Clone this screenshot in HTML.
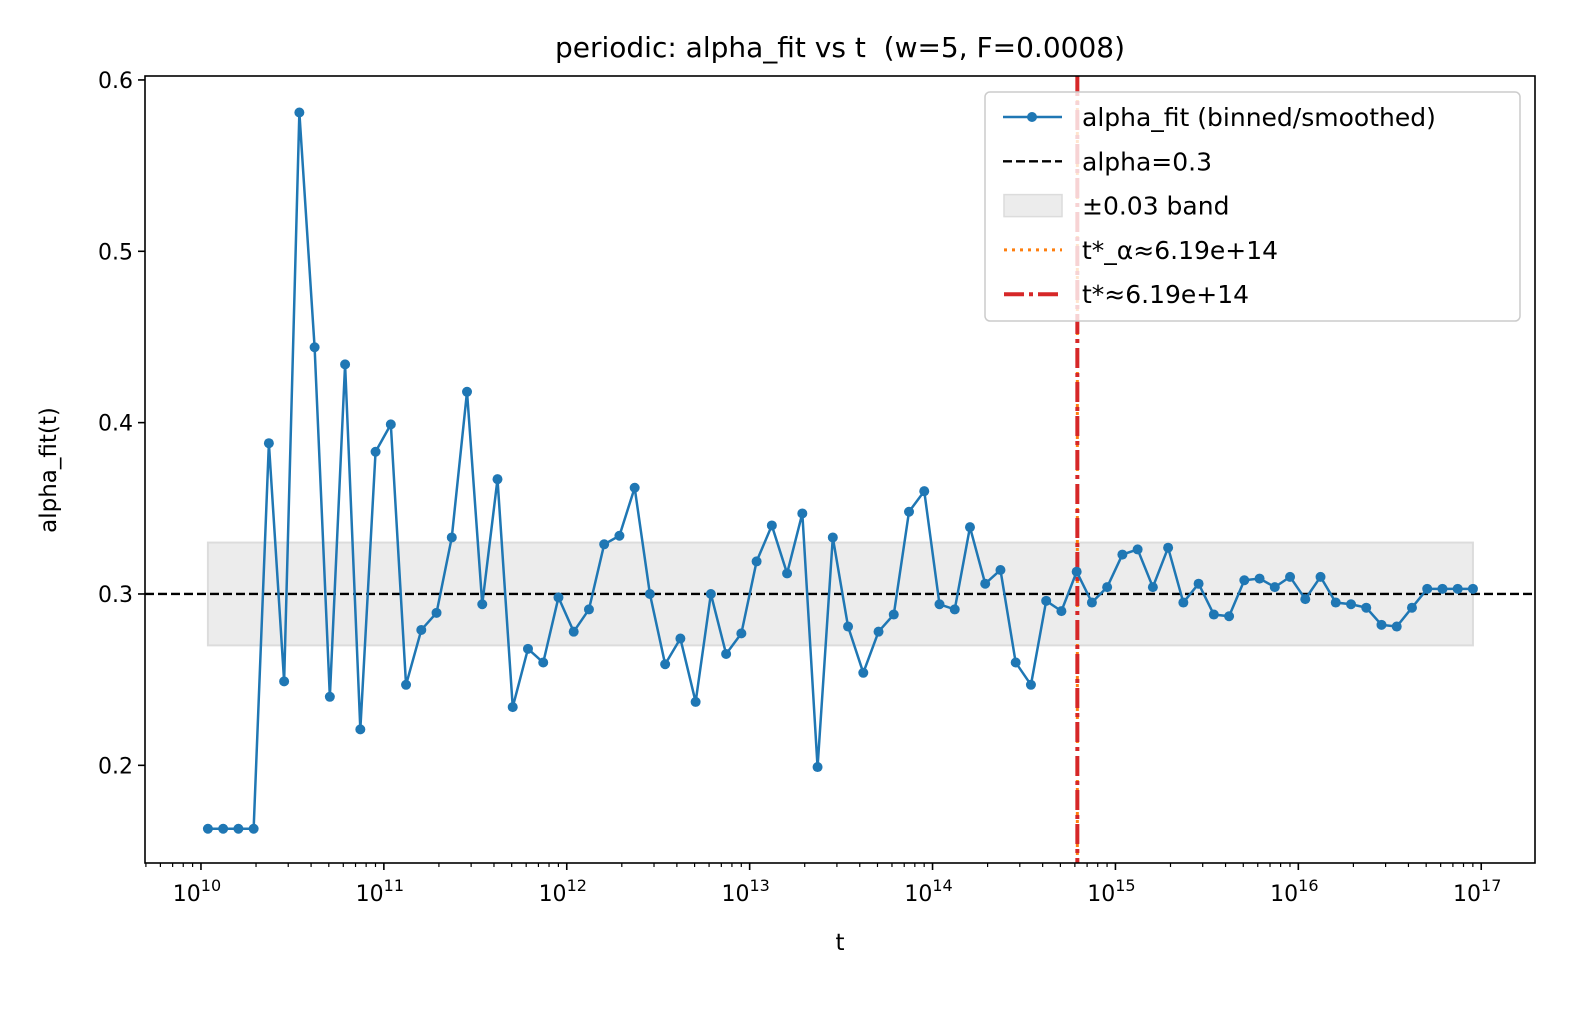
<!DOCTYPE html>
<html><head><meta charset="utf-8"><style>
html,body{margin:0;padding:0;background:#fff;}
svg{display:block;font-family:"DejaVu Sans","Liberation Sans",sans-serif;}
</style></head><body>
<svg id="chart" width="1584" height="1011" viewBox="0 0 1584 1011" xmlns="http://www.w3.org/2000/svg">
<rect width="1584" height="1011" fill="#fff"/>
<text x="840" y="57" font-size="28" text-anchor="middle" style="white-space:pre">periodic: alpha_fit vs t  (w=5, F=0.0008)</text>
<g id="plot"></g>
<text x="840" y="950" font-size="23" text-anchor="middle">t</text>
<text transform="translate(56,470) rotate(-90)" font-size="23" text-anchor="middle">alpha_fit(t)</text>
</svg>
<script>
const logT0 = 10.038, logTStep = 1/12;
const alphaValues = [0.163,0.163,0.163,0.163,0.388,0.249,0.581,0.444,0.240,0.434,0.221,0.383,0.399,0.247,0.279,0.289,0.333,0.418,0.294,0.367,0.234,0.268,0.260,0.298,0.278,0.291,0.329,0.334,0.362,0.300,0.259,0.274,0.237,0.300,0.265,0.277,0.319,0.340,0.312,0.347,0.199,0.333,0.281,0.254,0.278,0.288,0.348,0.360,0.294,0.291,0.339,0.306,0.314,0.260,0.247,0.296,0.290,0.313,0.295,0.304,0.323,0.326,0.304,0.327,0.295,0.306,0.288,0.287,0.308,0.309,0.304,0.310,0.297,0.310,0.295,0.294,0.292,0.282,0.281,0.292,0.303,0.303,0.303,0.303];
const yTicks = [0.2,0.3,0.4,0.5,0.6];
const xTickExps = [10,11,12,13,14,15,16,17];
const alphaRef = 0.3, bandHalf = 0.03, tStar = 6.19e14;

const NS="http://www.w3.org/2000/svg";
const L=145,R=1535,T=76,B=863;
const xMin=9.694,xMax=17.294,yMin=0.143,yMax=0.6023;
const xs=lt=>L+(lt-xMin)/(xMax-xMin)*(R-L);
const ys=v=>B-(v-yMin)/(yMax-yMin)*(B-T);
const g=document.getElementById('plot');
function mk(tag,attrs,parent){const e=document.createElementNS(NS,tag);for(const k in attrs)e.setAttribute(k,attrs[k]);(parent||g).appendChild(e);return e;}
const logs=alphaValues.map((v,i)=>logT0+i*logTStep);
const x0=xs(logs[0]),x1=xs(logs[logs.length-1]);
let e;
e=mk('rect',{x:x0,y:ys(alphaRef+bandHalf),width:x1-x0,height:ys(alphaRef-bandHalf)-ys(alphaRef+bandHalf),fill:'#ececec',stroke:'#dcdcdc','stroke-width':2});


e=mk('line',{x1:L,x2:R,y1:ys(alphaRef),y2:ys(alphaRef),stroke:'#000','stroke-width':2.4,'stroke-dasharray':'9 4'});


const xst=xs(Math.log10(tStar));
e=mk('line',{x1:xst,x2:xst,y1:T,y2:B,stroke:'#ff7f0e','stroke-width':3,'stroke-dasharray':'3 5'});


e=mk('line',{x1:xst,x2:xst,y1:T,y2:B,stroke:'#d62728','stroke-width':4,'stroke-dasharray':'20 5 4 5'});


e=mk('polyline',{points:alphaValues.map((v,i)=>xs(logs[i])+','+ys(v)).join(' '),fill:'none',stroke:'#1f77b4','stroke-width':2.5});


alphaValues.forEach((v,i)=>{const c=mk('circle',{cx:xs(logs[i]),cy:ys(v),r:5,fill:'#1f77b4'});

});
e=mk('rect',{x:L,y:T,width:R-L,height:B-T,fill:'none',stroke:'#000','stroke-width':1.6});


yTicks.forEach(v=>{const y=ys(v);mk('line',{x1:L-7,x2:L,y1:y,y2:y,stroke:'#000','stroke-width':1.6});
const t=mk('text',{x:L-12,y:y+8,'font-size':22,'text-anchor':'end'});t.textContent=v.toFixed(1);

});
for(let d=9;d<=17;d++){for(let m=2;m<=9;m++){const lt=d+Math.log10(m);if(lt<xMin||lt>xMax)continue;const x=xs(lt);mk('line',{x1:x,x2:x,y1:B,y2:B+4,stroke:'#000','stroke-width':1.2});}}
xTickExps.forEach(p=>{const x=xs(p);mk('line',{x1:x,x2:x,y1:B,y2:B+7,stroke:'#000','stroke-width':1.6});
const t=mk('text',{x:x-4,y:B+38,'font-size':22,'text-anchor':'middle'});t.textContent='10';


const s=mk('tspan',{'font-size':16,dy:-10});s.textContent=String(p);t.appendChild(s);});
const lg=mk('g',{});


mk('rect',{x:985,y:92,width:535,height:229,rx:5,fill:'#fff','fill-opacity':0.8,stroke:'#ccc','stroke-width':1.5},lg);
const items=[['alpha_fit (binned/smoothed)','line'],['alpha=0.3','dash'],['±0.03 band','band'],['t*_α≈6.19e+14','dot'],['t*≈6.19e+14','dashdot']];
items.forEach((it,i)=>{const y=117+i*44.3;
if(it[1]=='line'){mk('line',{x1:1003,x2:1062,y1:y,y2:y,stroke:'#1f77b4','stroke-width':2.5},lg);mk('circle',{cx:1032,cy:y,r:5,fill:'#1f77b4'},lg);}
if(it[1]=='dash')mk('line',{x1:1003,x2:1062,y1:y,y2:y,stroke:'#000','stroke-width':2.4,'stroke-dasharray':'9 4'},lg);
if(it[1]=='band')mk('rect',{x:1004,y:y-11,width:58,height:22,fill:'#ececec',stroke:'#dcdcdc','stroke-width':1.5},lg);
if(it[1]=='dot')mk('line',{x1:1004,x2:1062,y1:y,y2:y,stroke:'#ff7f0e','stroke-width':3,'stroke-dasharray':'3 5'},lg);
if(it[1]=='dashdot')mk('line',{x1:1004,x2:1062,y1:y,y2:y,stroke:'#d62728','stroke-width':4,'stroke-dasharray':'20 5 4 5'},lg);
const t=mk('text',{x:1082,y:y+9,'font-size':25},lg);t.textContent=it[0];

});
</script>
</body></html>
